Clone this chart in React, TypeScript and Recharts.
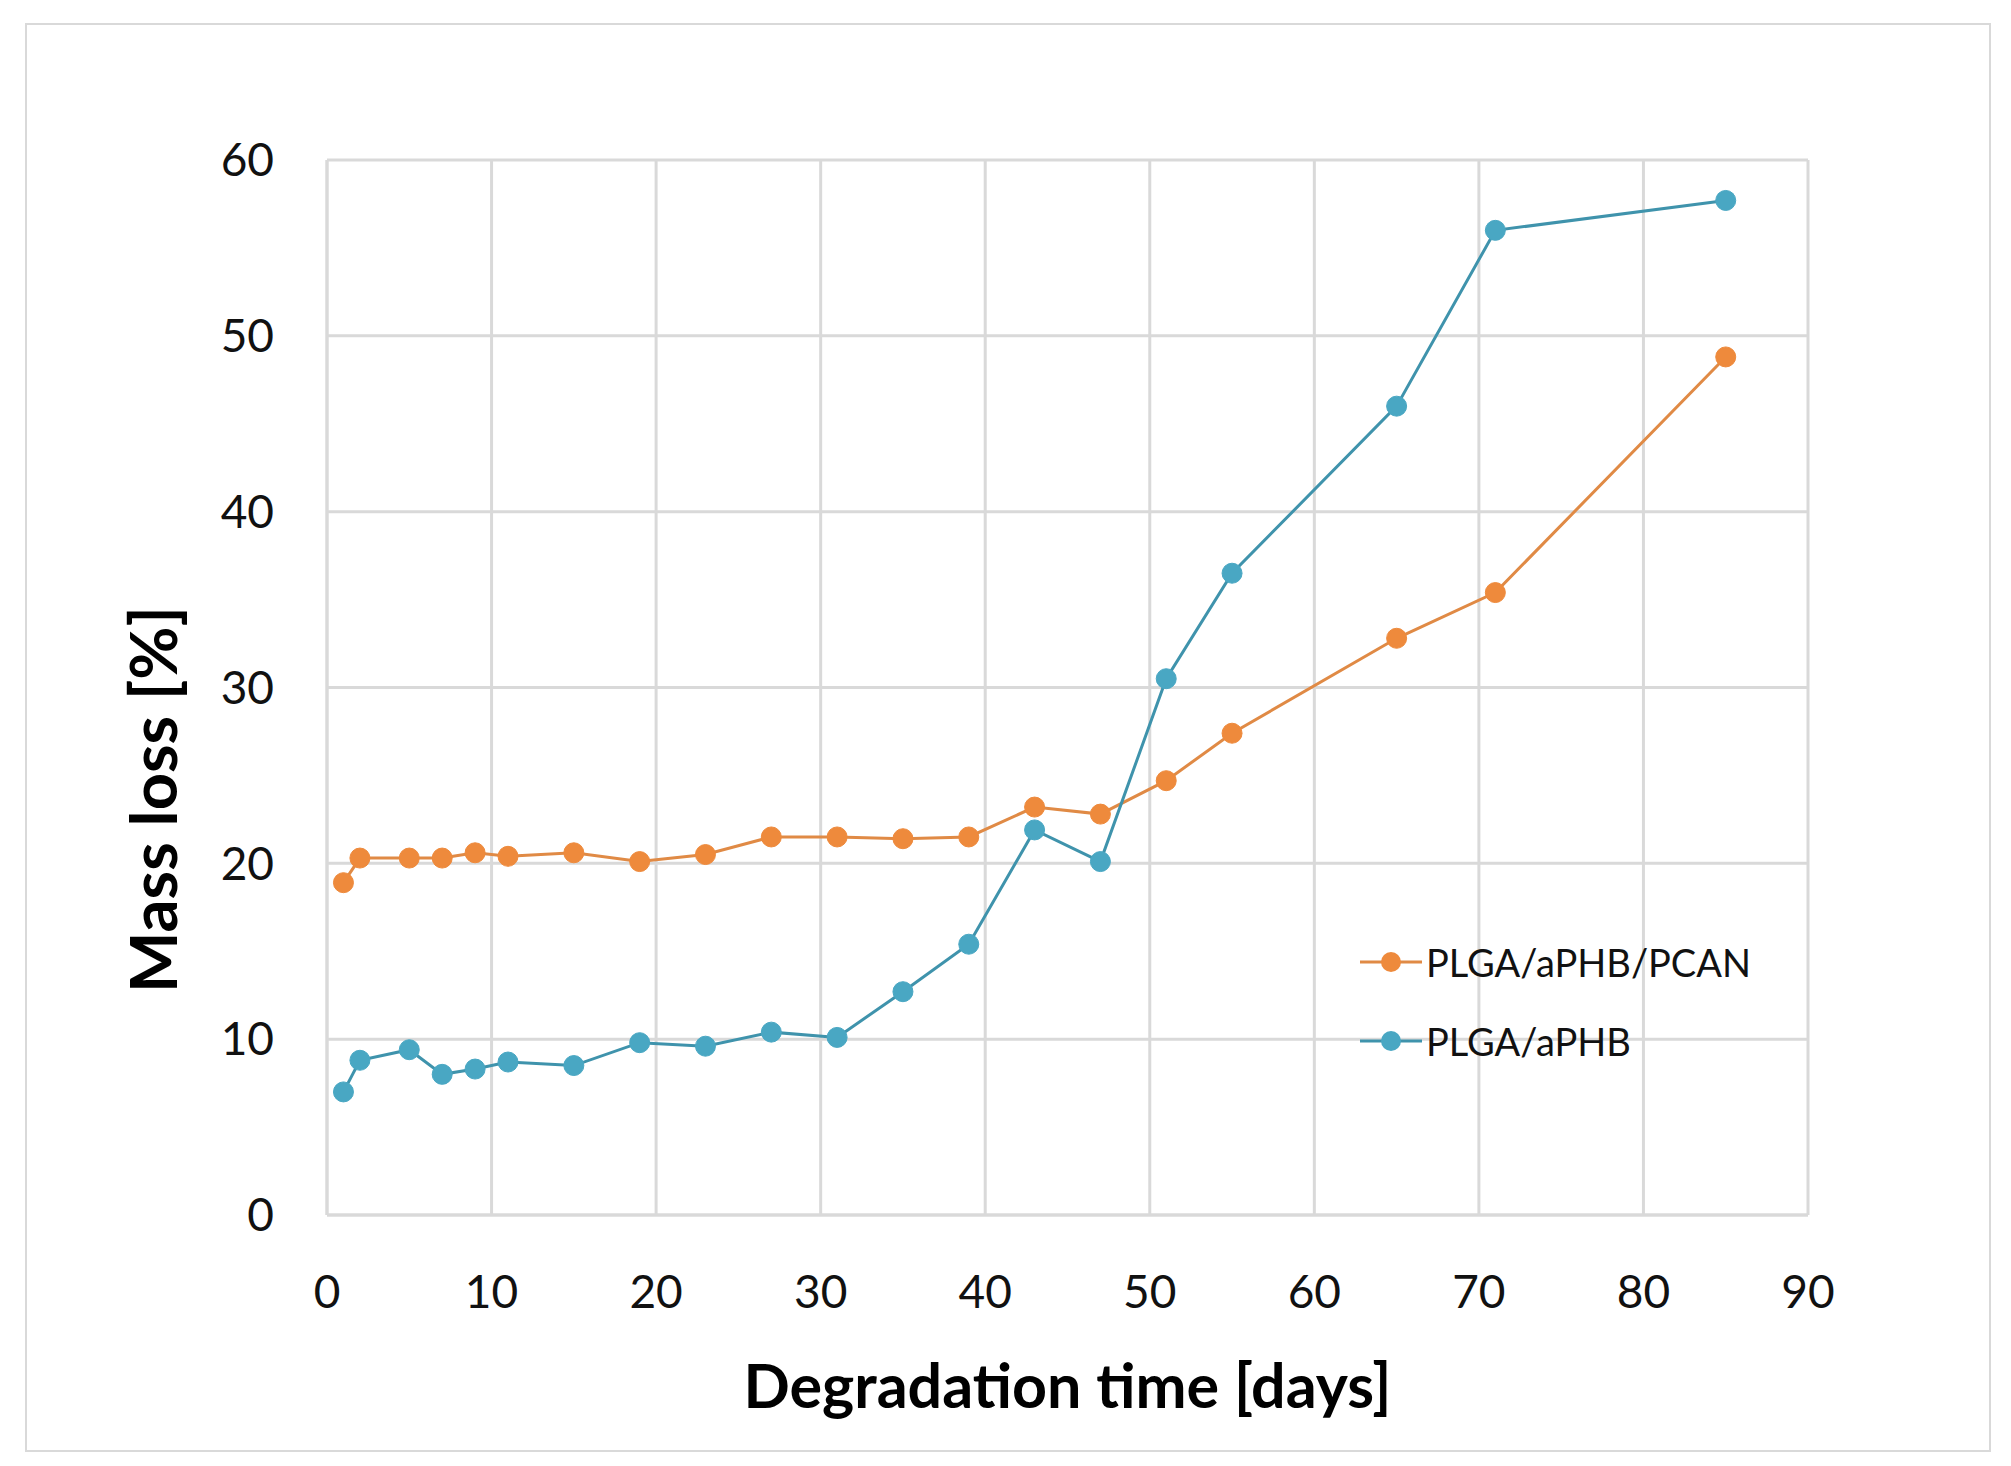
import React from 'react';
import { LineChart, Line, XAxis, YAxis, CartesianGrid, Legend } from 'recharts';

// degradation days (same sampling for both samples)
const days = [1, 2, 5, 7, 9, 11, 15, 19, 23, 27, 31, 35, 39, 43, 47, 51, 55, 65, 71, 85];

const plgaAphbPcan = [18.9, 20.3, 20.3, 20.3, 20.6, 20.4, 20.6, 20.1, 20.5, 21.5, 21.5, 21.4, 21.5, 23.2, 22.8, 24.7, 27.4, 32.8, 35.4, 48.8];
const plgaAphb = [7.0, 8.8, 9.4, 8.0, 8.3, 8.7, 8.5, 9.8, 9.6, 10.4, 10.1, 12.7, 15.4, 21.9, 20.1, 30.5, 36.5, 46.0, 56.0, 57.7];

const xTicks = [0, 10, 20, 30, 40, 50, 60, 70, 80, 90];
const yTicks = [0, 10, 20, 30, 40, 50, 60];

const seriesNames = ['PLGA/aPHB/PCAN', 'PLGA/aPHB'];

const ORANGE = '#EE8A3C';
const ORANGE_LINE = '#E08A45';
const BLUE = '#49A7C3';
const BLUE_LINE = '#3F93AC';
const GRID = '#d9d9d9';
const FONT = 'Lato, "Open Sans", sans-serif';

const data = days.map((d, i) => ({
  day: d,
  pcan: plgaAphbPcan[i],
  aphb: plgaAphb[i],
}));

const YTitle = (props: any) => {
  const vb = props.viewBox;
  const cx = vb.x + 152;
  const cy = vb.y + vb.height / 2 + 112;
  return (
    <text
      x={cx}
      y={cy}
      transform={`rotate(-90, ${cx}, ${cy})`}
      textAnchor="middle"
      dominantBaseline="central"
      fontFamily={FONT}
      fontWeight={700}
      fontSize={65}
      fill="#000"
    >
      Mass loss [%]
    </text>
  );
};

const XTitle = (props: any) => {
  const vb = props.viewBox;
  return (
    <text
      x={vb.x + vb.width / 2}
      y={1384}
      textAnchor="middle"
      dominantBaseline="central"
      fontFamily={FONT}
      fontWeight={700}
      fontSize={61}
      fill="#000"
    >
      Degradation time [days]
    </text>
  );
};

const LegendBox = () => {
  const items = [
    { name: seriesNames[0], color: ORANGE, line: ORANGE_LINE },
    { name: seriesNames[1], color: BLUE, line: BLUE_LINE },
  ];
  return (
    <div style={{ fontFamily: FONT }}>
      {items.map((it) => (
        <div key={it.name} style={{ display: 'flex', alignItems: 'center', height: 79 }}>
          <svg width={64} height={24}>
            <line x1={0} y1={12} x2={62} y2={12} stroke={it.line} strokeWidth={3} />
            <circle cx={31} cy={12} r={10} fill={it.color} />
          </svg>
          <span style={{ fontSize: 38, color: '#111', marginLeft: 2 }}>{it.name}</span>
        </div>
      ))}
    </div>
  );
};

export default function App() {
  return (
    <div style={{ position: 'absolute', left: 0, top: 0, width: 2011, height: 1466, background: '#fff' }}>
      <div
        style={{
          position: 'absolute',
          left: 25,
          top: 23,
          width: 1962,
          height: 1425,
          border: `2px solid ${GRID}`,
        }}
      />
      <LineChart
        width={2011}
        height={1466}
        data={data}
        margin={{ top: 160, right: 203, bottom: 0, left: 0 }}
        style={{ position: 'absolute', left: 0, top: 0 }}
      >
        <CartesianGrid stroke={GRID} strokeWidth={3} />
        <XAxis
          dataKey="day"
          type="number"
          domain={[0, 90]}
          ticks={xTicks}
          height={251}
          tickSize={0}
          tickMargin={60}
          axisLine={{ stroke: GRID, strokeWidth: 3 }}
          tickLine={false}
          tick={{ fontFamily: FONT, fontSize: 46, fill: '#111' }}
          label={<XTitle />}
        />
        <YAxis
          type="number"
          domain={[0, 60]}
          ticks={yTicks}
          width={327}
          tickSize={0}
          tickMargin={53}
          axisLine={{ stroke: GRID, strokeWidth: 3 }}
          tickLine={false}
          tick={{ fontFamily: FONT, fontSize: 46, fill: '#111' }}
          label={<YTitle />}
        />
        <Legend
          layout="vertical"
          align="center"
          verticalAlign="middle"
          wrapperStyle={{ position: 'absolute', left: 1360, top: 922, width: 500 }}
          content={<LegendBox />}
        />
        <Line
          dataKey="pcan"
          name={seriesNames[0]}
          stroke={ORANGE_LINE}
          strokeWidth={3}
          dot={{ r: 10, fill: ORANGE, stroke: ORANGE, strokeWidth: 1 }}
          isAnimationActive={false}
        />
        <Line
          dataKey="aphb"
          name={seriesNames[1]}
          stroke={BLUE_LINE}
          strokeWidth={3}
          dot={{ r: 10, fill: BLUE, stroke: BLUE, strokeWidth: 1 }}
          isAnimationActive={false}
        />
      </LineChart>
    </div>
  );
}
